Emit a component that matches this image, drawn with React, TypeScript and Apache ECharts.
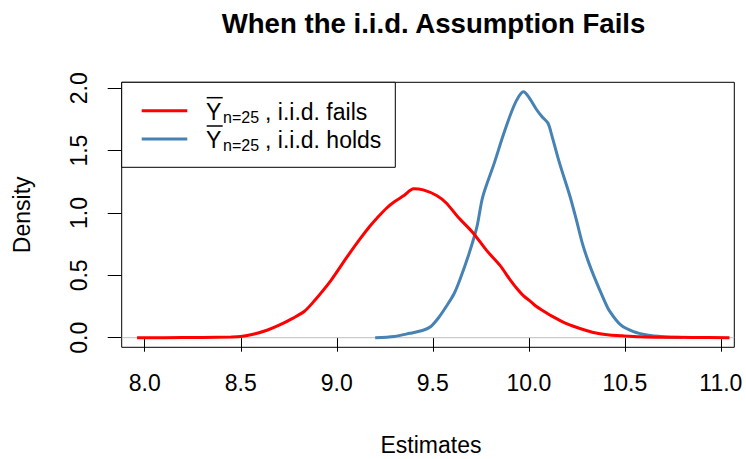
import React, { useEffect, useRef } from "react";
import * as echarts from "echarts";

const titleText = "When the i.i.d. Assumption Fails";
const xName = "Estimates";
const yName = "Density";
const xTicks = [8.0, 8.5, 9.0, 9.5, 10.0, 10.5, 11.0];
const yTicks = [0.0, 0.5, 1.0, 1.5, 2.0];
const legendLabels = [", i.i.d. fails", ", i.i.d. holds"];
const legendSub = "n=25";

const redX = [7.96, 8.1, 8.3, 8.45, 8.5, 8.57, 8.64, 8.7, 8.77, 8.83, 8.88, 8.97, 9.05, 9.12, 9.17, 9.21, 9.26, 9.3, 9.35, 9.4, 9.45, 9.52, 9.57, 9.63, 9.71, 9.78, 9.85, 9.9, 9.94, 9.97, 10.01, 10.04, 10.07, 10.13, 10.2, 10.27, 10.35, 10.42, 10.49, 10.58, 10.7, 10.85, 11.045];
const redY = [0, 0, 0.002, 0.005, 0.009, 0.03, 0.062, 0.1, 0.155, 0.21, 0.29, 0.46, 0.64, 0.79, 0.89, 0.96, 1.04, 1.09, 1.14, 1.195, 1.185, 1.14, 1.08, 0.97, 0.84, 0.7, 0.58, 0.47, 0.39, 0.34, 0.29, 0.25, 0.22, 0.165, 0.11, 0.072, 0.037, 0.022, 0.015, 0.008, 0.004, 0.002, 0];

const blueX = [9.2, 9.3, 9.38, 9.45, 9.49, 9.53, 9.57, 9.61, 9.64, 9.69, 9.73, 9.76, 9.82, 9.87, 9.92, 9.95, 9.972, 10.0, 10.04, 10.07, 10.1, 10.12, 10.16, 10.215, 10.25, 10.28, 10.31, 10.34, 10.39, 10.42, 10.48, 10.545, 10.615, 10.7, 10.8];
const blueY = [0, 0.01, 0.035, 0.06, 0.09, 0.16, 0.25, 0.35, 0.46, 0.68, 0.89, 1.13, 1.4, 1.64, 1.85, 1.94, 1.973, 1.93, 1.83, 1.77, 1.72, 1.62, 1.4, 1.13, 0.93, 0.75, 0.61, 0.49, 0.31, 0.215, 0.1, 0.048, 0.022, 0.008, 0.002];

const FONT = "'Liberation Sans', Arial, Helvetica, sans-serif";
const RED = "#FF0000";
const BLUE = "#4682B4";

export default function App() {
  const ref = useRef<HTMLDivElement>(null);
  useEffect(() => {
    if (!ref.current) return;
    const chart = echarts.init(ref.current, null, { renderer: "svg" });
    const gL = 121.7, gR = 734.3, gT = 82.3, gB = 347.3;
    const fs = 23;
    const legendRows = [110.7, 139];
    const legendGraphics: any[] = [
      {
        type: "rect",
        shape: { x: gL, y: gT, width: 395.3 - gL, height: 167.3 - gT },
        style: { fill: "#fff", stroke: "#000", lineWidth: 1 },
        z: 100,
      },
    ];
    [RED, BLUE].forEach((c, i) => {
      const ly = legendRows[i];
      const base = ly + 9.3;
      legendGraphics.push(
        { type: "line", shape: { x1: 141.7, y1: ly, x2: 187.3, y2: ly }, style: { stroke: c, lineWidth: 3 }, z: 101 },
        { type: "text", x: 206, y: base - 0.35 * fs, style: { text: "Y", font: `${fs}px ${FONT}`, fill: "#000", verticalAlign: "middle", align: "left" }, z: 101 },
        { type: "line", shape: { x1: 206.7, y1: base - 22.3, x2: 222.7, y2: base - 22.3 }, style: { stroke: "#000", lineWidth: 1.5 }, z: 101 },
        { type: "text", x: 223, y: base + 2.7 - 0.35 * 16, style: { text: legendSub, font: `16px ${FONT}`, fill: "#000", verticalAlign: "middle", align: "left" }, z: 101 },
        { type: "text", x: 265, y: base - 0.35 * fs, style: { text: legendLabels[i], font: `${fs}px ${FONT}`, fill: "#000", verticalAlign: "middle", align: "left" }, z: 101 }
      );
    });

    const option: any = {
      animation: false,
      backgroundColor: "#fff",
      grid: {
        left: gL,
        right: 746 - gR,
        top: gT,
        bottom: 459 - gB,
        show: true,
        borderColor: "#000",
        borderWidth: 1,
        backgroundColor: "transparent",
      },
      xAxis: {
        type: "value",
        min: 7.88,
        max: 11.07,
        splitLine: { show: false },
        axisLine: { show: false },
        axisTick: { show: true, length: 14, customValues: xTicks, lineStyle: { color: "#000", width: 1 } },
        axisLabel: {
          customValues: xTicks,
          formatter: (v: number) => v.toFixed(1),
          margin: 24,
          fontSize: fs,
          fontFamily: FONT,
          color: "#000",
        },
      },
      yAxis: {
        type: "value",
        min: -0.077,
        max: 2.048,
        splitLine: { show: false },
        axisLine: { show: false },
        axisTick: { show: true, length: 14, customValues: yTicks, lineStyle: { color: "#000", width: 1 } },
        axisLabel: {
          customValues: yTicks,
          formatter: (v: number) => v.toFixed(1),
          rotate: 90,
          margin: 31,
          fontSize: fs,
          fontFamily: FONT,
          color: "#000",
        },
      },
      series: [
        {
          type: "line",
          data: [[7.88, 0], [11.07, 0]],
          showSymbol: false,
          lineStyle: { color: "#BEBEBE", width: 1 },
          z: 1,
          silent: true,
        },
        {
          type: "line",
          data: blueX.map((x, i) => [x, blueY[i]]),
          showSymbol: false,
          smooth: 0.3,
          lineStyle: { color: BLUE, width: 3 },
          z: 2,
        },
        {
          type: "line",
          data: redX.map((x, i) => [x, redY[i]]),
          showSymbol: false,
          smooth: 0.3,
          lineStyle: { color: RED, width: 3 },
          z: 3,
        },
      ],
      graphic: [
        {
          type: "text",
          x: 433.5,
          y: 33.3 - 0.35 * 27.6,
          style: { text: titleText, font: `bold 27.6px ${FONT}`, fill: "#000", align: "center", verticalAlign: "middle" },
        },
        {
          type: "text",
          x: (gL + gR) / 2 + 3,
          y: 445,
          style: { text: xName, font: `${fs}px ${FONT}`, fill: "#000", align: "center", verticalAlign: "middle" },
        },
        {
          type: "text",
          x: 21.7,
          y: (gT + gB) / 2,
          rotation: Math.PI / 2,
          style: { text: yName, font: `${fs}px ${FONT}`, fill: "#000", align: "center", verticalAlign: "middle" },
        },
        ...legendGraphics,
      ],
    };
    chart.setOption(option);
    return () => chart.dispose();
  }, []);
  return (
    <div
      ref={ref}
      style={{ position: "fixed", left: 0, top: 0, width: 746, height: 459, background: "#fff" }}
    />
  );
}
